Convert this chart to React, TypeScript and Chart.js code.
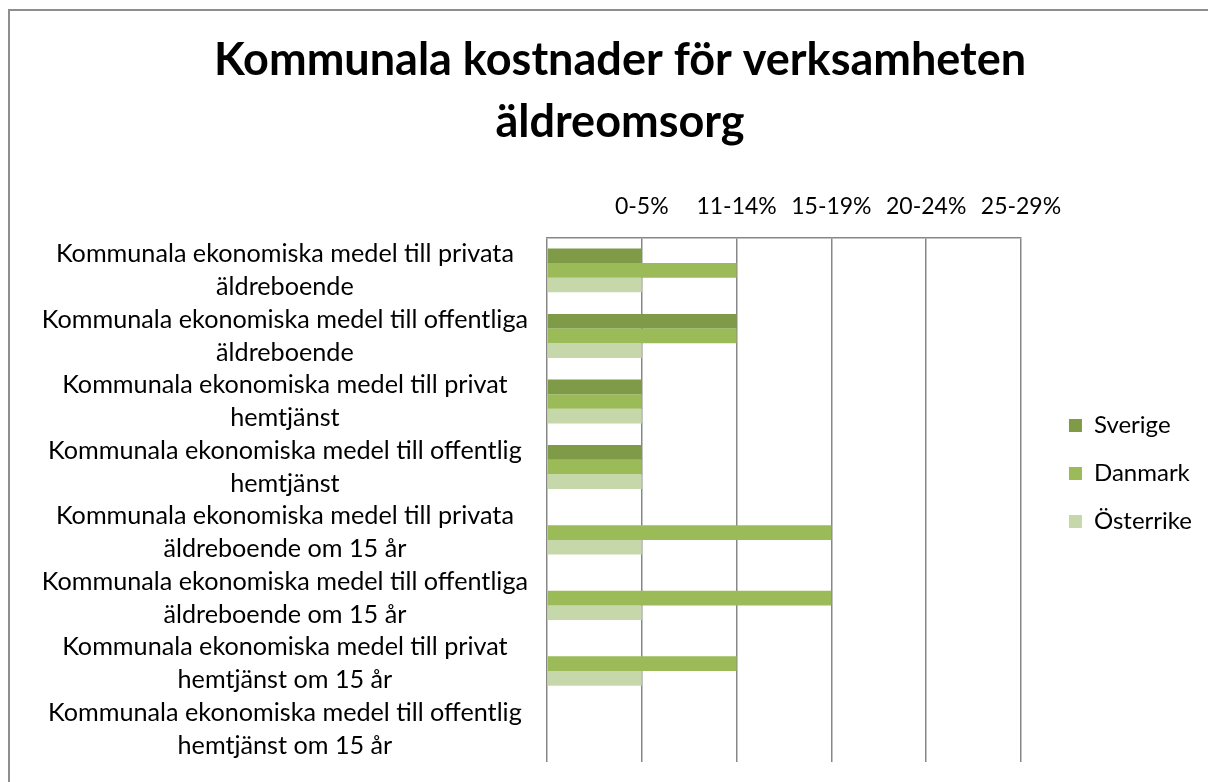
import React, { useEffect, useRef } from 'react';
import { Chart, registerables } from 'chart.js';

Chart.register(...registerables);

const categories: string[][] = [
  ['Kommunala ekonomiska medel till privata', 'äldreboende'],
  ['Kommunala ekonomiska medel till offentliga', 'äldreboende'],
  ['Kommunala ekonomiska medel till privat', 'hemtjänst'],
  ['Kommunala ekonomiska medel till offentlig', 'hemtjänst'],
  ['Kommunala ekonomiska medel till privata', 'äldreboende om 15 år'],
  ['Kommunala ekonomiska medel till offentliga', 'äldreboende om 15 år'],
  ['Kommunala ekonomiska medel till privat', 'hemtjänst om 15 år'],
  ['Kommunala ekonomiska medel till offentlig', 'hemtjänst om 15 år'],
];
const sverige = [1, 2, 1, 1, null, null, null, null];
const danmark = [2, 2, 1, 1, 3, 3, 2, null];
const osterrike = [1, 1, 1, 1, 1, 1, 1, null];
const tickLabels = ['', '0-5%', '11-14%', '15-19%', '20-24%', '25-29%'];
const seriesNames = ['Sverige', 'Danmark', 'Österrike'];
const titleLines = ['Kommunala kostnader för verksamheten', 'äldreomsorg'];

const FONT = 'Lato, "Open Sans", "DejaVu Sans", sans-serif';
const GRID = '#878787';

export default function App() {
  const ref = useRef<HTMLCanvasElement | null>(null);
  useEffect(() => {
    if (!ref.current) return;
    const chart = new Chart(ref.current, {
      type: 'bar',
      data: {
        labels: categories,
        datasets: [
          { label: seriesNames[0], data: sverige, backgroundColor: '#7f9b48' },
          { label: seriesNames[1], data: danmark, backgroundColor: '#9bbb59' },
          { label: seriesNames[2], data: osterrike, backgroundColor: '#c6d8a9' },
        ],
      },
      options: {
        indexAxis: 'y',
        animation: false,
        responsive: true,
        maintainAspectRatio: false,
        datasets: { bar: { barPercentage: 1, categoryPercentage: 0.67, borderWidth: 0 } },
        layout: { padding: { left: 38, right: 6, top: 0, bottom: 20 } },
        scales: {
          x: {
            position: 'top',
            min: 0,
            max: 5,
            ticks: {
              stepSize: 1,
              callback: (v: any) => tickLabels[Number(v)] ?? '',
              font: { family: FONT, size: 23, lineHeight: 1.2 },
              color: '#000',
              padding: 17,
              maxRotation: 0,
            },
            grid: { color: GRID, lineWidth: 1.5, drawTicks: false },
            border: { display: true, color: GRID, width: 1.5 },
          },
          y: {
            grid: { display: false },
            border: { display: false },
            ticks: {
              crossAlign: 'center',
              autoSkip: false,
              font: { family: FONT, size: 25.2, lineHeight: 1.31 },
              color: '#000',
              padding: 11,
            },
            afterFit: (s: any) => {
              s.width = 509;
              s.paddingTop = 0;
              s.paddingBottom = 0;
            },
          },
          yR: {
            type: 'linear',
            position: 'right',
            display: true,
            grid: { display: false },
            border: { display: false },
            ticks: { display: false },
            afterFit: (s: any) => { s.width = 24; },
          },
        },
        plugins: {
          title: {
            display: true,
            text: titleLines,
            color: '#000',
            font: { family: FONT, size: 45, weight: 'bold', lineHeight: 1.378 },
            padding: { top: 29, bottom: 23 },
          },
          legend: {
            position: 'right',
            fullSize: false,
            align: 'start',
            title: { display: true, text: ' ', font: { size: 10, lineHeight: 1 }, padding: { top: 142, bottom: 0 } },
            labels: {
              boxWidth: 13,
              boxHeight: 13,
              padding: 24,
              color: '#000',
              font: { family: FONT, size: 24 },
            },
          },
          tooltip: { enabled: false },
        },
      } as any,
    });
    return () => chart.destroy();
  }, []);
  return (
    <>
      <div style={{ position: 'fixed', left: 8, top: 9, width: 1300, height: 900, borderTop: '2px solid #8e8e8e', borderLeft: '2px solid #8e8e8e' }} />
      <div style={{ position: 'fixed', left: 0, top: 0, width: 1208, height: 782 }}>
        <canvas ref={ref} />
      </div>
    </>
  );
}
